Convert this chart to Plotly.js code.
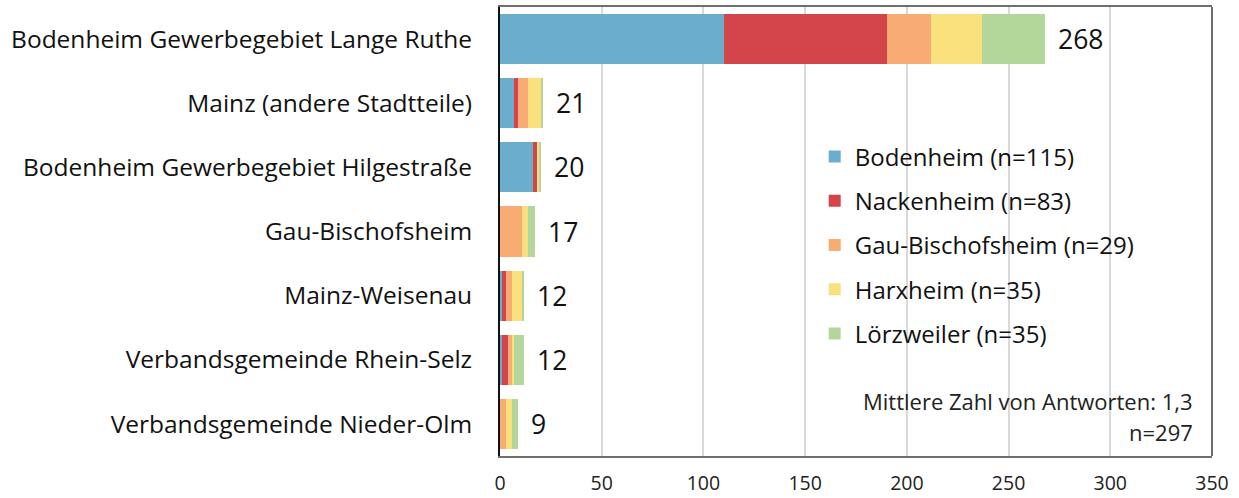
<!DOCTYPE html>
<html><head><meta charset="utf-8">
<script src="https://cdn.plot.ly/plotly-3.0.1.min.js"></script>
<style>body{margin:0;background:#fff}#chart{width:1239px;height:498px}</style>
</head><body><div id="chart"></div>
<script>
const categories = ["Bodenheim Gewerbegebiet Lange Ruthe","Mainz (andere Stadtteile)","Bodenheim Gewerbegebiet Hilgestraße","Gau-Bischofsheim","Mainz-Weisenau","Verbandsgemeinde Rhein-Selz","Verbandsgemeinde Nieder-Olm"];
const seriesNames = ["Bodenheim (n=115)","Nackenheim (n=83)","Gau-Bischofsheim (n=29)","Harxheim (n=35)","Lörzweiler (n=35)"];
const bodenheim = [110, 7, 16, 0, 1, 1, 0];
const nackenheim = [80, 2, 2, 0, 2, 3, 0];
const gauBischofsheim = [22, 5, 0, 11, 3, 2, 3];
const harxheim = [25, 6, 1, 3, 5, 1, 3];
const loerzweiler = [31, 1, 1, 3, 1, 5, 3];
const totals = [268, 21, 20, 17, 12, 12, 9];
const colors = ["#6aadcc","#d3454b","#f8ab73","#fbe07e","#b3d79b"];
const xTicks = [0,50,100,150,200,250,300,350];

const seriesValues = [bodenheim, nackenheim, gauBischofsheim, harxheim, loerzweiler];
const font = "'Open Sans', sans-serif";
const traces = seriesValues.map((v,i)=>({
  type:'bar', orientation:'h', name:seriesNames[i], x:v, y:categories,
  marker:{color:colors[i], line:{width:0}}, legendgroup:'g'+i, hoverinfo:'x+name'
}));
const annotations = categories.map((c,i)=>({
  x: totals[i], y: c, xref:'x', yref:'y', text:String(totals[i]), showarrow:false,
  xanchor:'left', xshift:11, font:{family:font, size:26.5, color:'#111'}
}));
annotations.push({x:0.976, y:0.122, xref:'paper', yref:'paper', xanchor:'right', yanchor:'middle',
  text:'Mittlere Zahl von Antworten: 1,3', showarrow:false, font:{family:font,size:22,color:'#222'}});
annotations.push({x:0.976, y:0.053, xref:'paper', yref:'paper', xanchor:'right', yanchor:'middle',
  text:'n=297', showarrow:false, font:{family:font,size:22,color:'#222'}});
const layout = {
  width:1239, height:498, margin:{l:500, r:27, t:7, b:42},
  paper_bgcolor:'#fff', plot_bgcolor:'#fff',
  barmode:'stack', bargap:0.22,
  showlegend:true,
  legend:{x:0.442, y:0.716, xanchor:'left', yanchor:'top', bgcolor:'rgba(0,0,0,0)',
    font:{family:font, size:24, color:'#111'}, traceorder:'grouped', tracegroupgap:10},
  xaxis:{range:[0,350], tickvals:xTicks, ticktext:xTicks.map(String), showgrid:true,
    gridcolor:'#d9d9d9', gridwidth:2, zeroline:false, ticks:'', ticklabelstandoff:9,
    tickfont:{family:font, size:19.5, color:'#222'}, showline:true, linecolor:'#6e6e6e', linewidth:2, mirror:true, fixedrange:true},
  yaxis:{autorange:'reversed', type:'category', ticks:'', ticklabelstandoff:21,
    tickfont:{family:font, size:24.5, color:'#111'}, showline:true, linecolor:'#111', linewidth:2, fixedrange:true},
  shapes:[{type:'line', xref:'paper', yref:'paper', x0:1, x1:1, y0:0, y1:1, line:{color:'#6e6e6e', width:2}}],
  annotations:annotations
};
Plotly.newPlot('chart', traces, layout, {displayModeBar:false, staticPlot:true});
</script></body></html>
